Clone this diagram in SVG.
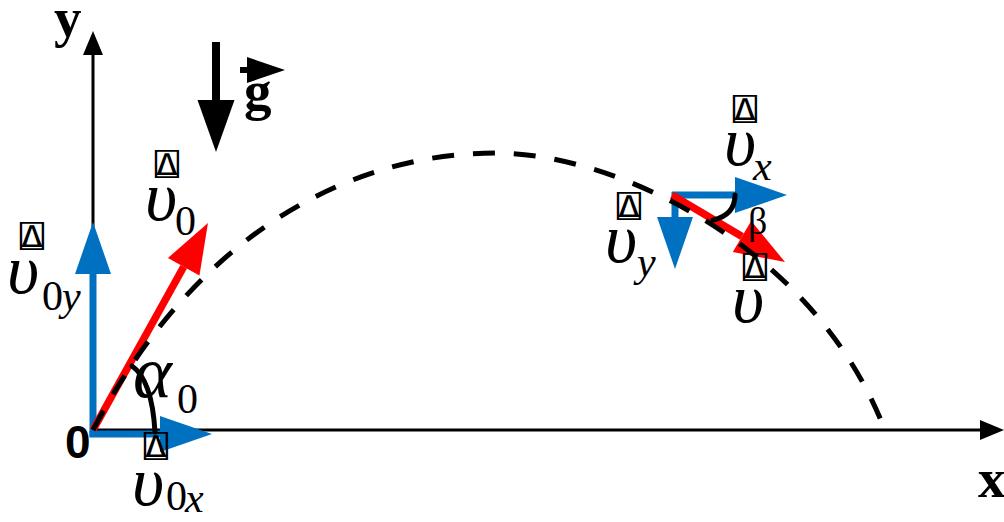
<svg xmlns="http://www.w3.org/2000/svg" width="1004" height="522" viewBox="0 0 1004 522">
<style>
.axis{stroke:#000;stroke-width:3;fill:none}
.blue{stroke:#0070C0;stroke-width:7;fill:none}
.red{stroke:#FF0000;stroke-width:7.5;fill:none}
.blk{stroke:#000;stroke-width:8;fill:none}
.arc{stroke:#000;stroke-width:5;fill:none;stroke-linecap:round}
.traj{stroke:#000;stroke-width:5;fill:none;stroke-dasharray:22 19}
.ax-lbl{font-family:"Liberation Serif",serif;font-weight:bold;font-size:55px;fill:#000}
.zero{font-family:"Liberation Sans",Arial,sans-serif;font-weight:bold;font-size:46px;fill:#000}
.vec{font-family:"DejaVu Sans Mono","DejaVu Sans",monospace;font-size:30px;fill:#000;text-anchor:middle}
.sym{font-family:"Liberation Serif",serif;font-style:italic;font-size:70px;fill:#000}
.alpha{font-family:"Liberation Serif",serif;font-style:italic;font-size:74px;fill:#000}
.sub{font-family:"Liberation Serif",serif;font-style:normal;font-size:42px;fill:#000}
.subi{font-family:"Liberation Serif",serif;font-style:italic;font-size:42px;fill:#000}
.beta{font-family:"Liberation Serif",serif;font-size:38px;fill:#000}
</style>
<defs>
<marker id="hb" markerUnits="userSpaceOnUse" markerWidth="60" markerHeight="40" refX="0" refY="0" orient="auto" overflow="visible"><path d="M0,-18 L52,0 L0,18 z" fill="#0070C0"/></marker>
<marker id="hr" markerUnits="userSpaceOnUse" markerWidth="60" markerHeight="40" refX="0" refY="0" orient="auto" overflow="visible"><path d="M0,-18 L50,0 L0,18 z" fill="#FF0000"/></marker>
<marker id="hk" markerUnits="userSpaceOnUse" markerWidth="60" markerHeight="40" refX="0" refY="0" orient="auto" overflow="visible"><path d="M0,-18.5 L52,0 L0,18.5 z" fill="#000"/></marker>
<marker id="ha" markerUnits="userSpaceOnUse" markerWidth="30" markerHeight="30" refX="0" refY="0" orient="auto" overflow="visible"><path d="M0,-10 L24,0 L0,10 z" fill="#000"/></marker>
<marker id="hs" markerUnits="userSpaceOnUse" markerWidth="40" markerHeight="30" refX="0" refY="0" orient="auto" overflow="visible"><path d="M0,-13 L38,0 L0,13 z" fill="#000"/></marker>
</defs>
<g id="connectors">
<line id="y-axis" class="axis" x1="93" y1="432" x2="93" y2="55" marker-end="url(#ha)"/>
<line id="x-axis" class="axis" x1="92" y1="430" x2="980" y2="430" marker-end="url(#ha)"/>
<line id="g-arrow" class="blk" x1="216" y1="42" x2="216" y2="100" marker-end="url(#hk)"/>
<line id="g-vec" stroke="#000" stroke-width="6" x1="240" y1="70" x2="247" y2="70" marker-end="url(#hs)"/>
<line id="v0y" class="blue" x1="93" y1="437" x2="93" y2="274" marker-end="url(#hb)"/>
<line id="v0x" class="blue" x1="89.5" y1="434" x2="160" y2="434" marker-end="url(#hb)"/>
<line id="v0" class="red" x1="93" y1="430" x2="183.7" y2="266.7" marker-end="url(#hr)"/>
<line id="vx" class="blue" x1="672" y1="195" x2="735" y2="195" marker-end="url(#hb)"/>
<line id="vy" class="blue" x1="675" y1="192" x2="675" y2="217" marker-end="url(#hb)"/>
<line id="v" class="red" x1="672" y1="195" x2="742" y2="236.5" marker-end="url(#hr)"/>
<path id="alpha-arc" class="arc" d="M132,366 Q152,380 155,432"/>
<path id="beta-arc" class="arc" d="M713,220 Q735,215 735,195"/>
<path id="trajectory" class="traj" d="M93,430 C203,220 365,153 495,153 C620,153 815,250 884,428"/>
</g>
<g id="axis-labels">
<text class="ax-lbl" x="54" y="36">y</text>
<text class="ax-lbl" x="978" y="497">x</text>
<text class="zero" x="65" y="458">0</text>
<text class="ax-lbl" x="244" y="109">g</text>
</g>
<g id="label-v0">
<text class="vec" transform="translate(167,175) scale(1.35,1)">⍍</text>
<text class="sym" x="145" y="220">υ<tspan class="sub" x="175" y="235">0</tspan></text>
</g>
<g id="label-v0y">
<text class="vec" transform="translate(32,247) scale(1.35,1)">⍍</text>
<text class="sym" x="7" y="293">υ<tspan class="sub" x="42" y="310">0</tspan><tspan class="subi" x="62" y="310">y</tspan></text>
</g>
<g id="label-v0x">
<text class="vec" transform="translate(156,457) scale(1.35,1)">⍍</text>
<text class="sym" x="132" y="505">υ<tspan class="sub" x="166" y="510">0</tspan><tspan class="subi" x="185" y="512">x</tspan></text>
</g>
<g id="label-vx">
<text class="vec" transform="translate(745,120) scale(1.35,1)">⍍</text>
<text class="sym" x="724" y="165">υ<tspan class="subi" x="753" y="180">x</tspan></text>
</g>
<g id="label-vy">
<text class="vec" transform="translate(629,217) scale(1.35,1)">⍍</text>
<text class="sym" x="605" y="262">υ<tspan class="subi" x="637" y="276">y</tspan></text>
</g>
<g id="label-v">
<text class="vec" transform="translate(755,278) scale(1.35,1)">⍍</text>
<text class="sym" x="732" y="322">υ</text>
</g>
<g id="label-alpha">
<text class="alpha" x="133" y="397">α<tspan class="sub" x="177" y="413" font-size="45">0</tspan></text>
</g>
<g id="label-beta">
<text class="beta" x="748" y="234">β</text>
</g>
</svg>
